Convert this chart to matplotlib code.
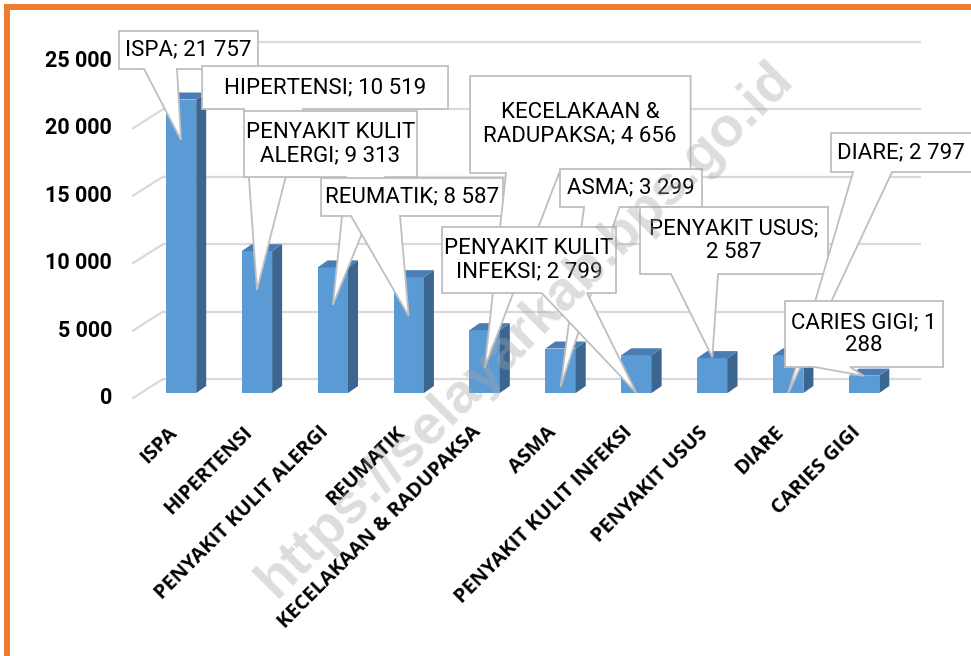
import numpy as np
import matplotlib.pyplot as plt
from matplotlib.patches import Polygon, Rectangle

# data
categories = ['ISPA', 'HIPERTENSI', 'PENYAKIT KULIT ALERGI', 'REUMATIK',
              'KECELAKAAN & RADUPAKSA', 'ASMA', 'PENYAKIT KULIT INFEKSI',
              'PENYAKIT USUS', 'DIARE', 'CARIES GIGI']
values = [21757, 10519, 9313, 8587, 4656, 3299, 2799, 2587, 2797, 1288]
yticks = [0, 5000, 10000, 15000, 20000, 25000]

def fmt(v):
    return f"{v:,}".replace(',', ' ')

# callout layout (data units: x = category index, y = value)
break_after = [0, 0, 2, 0, 2, 0, 2, 2, 0, 3]
box_l = [-0.817, 0.277, 0.830, 1.845, 3.808, 4.993, 3.439, 6.047, 8.564, 7.958]
box_r = [1.014, 3.518, 3.109, 4.242, 6.714, 6.864, 5.731, 8.524, 10.70, 10.040]
box_t = [26837, 24242, 20906, 15939, 23501, 16606, 12306, 13789, 19275, 6820]
box_b = [24020, 21054, 16013, 13122, 16310, 13789, 7414, 8822, 16384, 1928]
text_x = [0.099, 1.897, 1.970, 3.043, 5.257, 5.929, 4.585, 7.286, 9.486, 8.999]
text_y = [25428, 22648, 18460, 14530, 19905, 15198, 9860, 11306, 17829, 4374]
base_l = [-0.487, 0.830, 2.174, 2.240, 4.282, 5.310, 4.751, 6.456, 8.854, 8.353]
base_r = [-0.053, 1.607, 2.688, 2.885, 4.980, 5.777, 5.349, 7.075, 9.368, 8.814]
tip_y = [18756, 7636, 6524, 5708, 1853, 445, 0, 2650, 0, 1260]

# pseudo 3d geometry
bw = 0.4
bar_dx, bar_dy = 0.132, 519
wall_dx, wall_dy = 0.29, 1038
front_dx, front_dy = -0.105, -371
floor_l, floor_r = -0.527, 9.46

front_c = '#5b9bd5'
side_c = '#3a6690'
top_c = '#4a7db4'
grid_c = '#d9d9d9'
edge_c = '#bfbfbf'

fig = plt.figure(figsize=(9.71, 6.56), dpi=100)
ax = fig.add_axes([0, 0, 1, 1])
ax.set_xlim(-2.385, 10.408)
ax.set_ylim(-19497, 29135)
ax.axis('off')

# back wall gridlines and left diagonals
for t in yticks:
    ax.plot([floor_l + wall_dx, floor_r + wall_dx], [t + wall_dy] * 2,
            color=grid_c, lw=1.6, zorder=1, solid_capstyle='butt')
    ax.plot([floor_l + front_dx, floor_l + wall_dx], [t + front_dy, t + wall_dy],
            color=grid_c, lw=1.6, zorder=1)
    ax.text(-0.909, t + front_dy, fmt(t), ha='right', va='center',
            fontsize=15.5, fontweight='bold', family='Roboto')

# bars
x = np.arange(len(values))
ax.bar(x, values, width=bw, color=front_c, zorder=3)
for xi, v in zip(x, values):
    r = xi + bw / 2
    l = xi - bw / 2
    ax.add_patch(Polygon([(r, 0), (r + bar_dx, bar_dy), (r + bar_dx, v + bar_dy), (r, v)],
                         closed=True, fc=side_c, ec='none', zorder=3))
    ax.add_patch(Polygon([(l, v), (r, v), (r + bar_dx, v + bar_dy), (l + bar_dx, v + bar_dy)],
                         closed=True, fc=top_c, ec='none', zorder=3))

# category labels
for xi, c in zip(x, categories):
    ax.text(xi - 0.09, -2700, c, rotation=45, rotation_mode='anchor',
            ha='right', va='center', fontsize=14.5, fontweight='bold',
            family='Open Sans')

# callouts
for i, (c, v) in enumerate(zip(categories, values)):
    words = f"{c}; {fmt(v)}".split(' ')
    k = break_after[i]
    label = ' '.join(words) if k == 0 else ' '.join(words[:k]) + '\n' + ' '.join(words[k:])
    verts = [(box_l[i], box_t[i]), (box_r[i], box_t[i]), (box_r[i], box_b[i]),
             (base_r[i], box_b[i]), (i, tip_y[i]), (base_l[i], box_b[i]),
             (box_l[i], box_b[i])]
    ax.add_patch(Polygon(verts, closed=True, fc='white', ec=edge_c, lw=1.3,
                         zorder=10 + 2 * i, joinstyle='miter'))
    ax.text(text_x[i], text_y[i], label, ha='center', va='center',
            fontsize=16, family='Roboto', linespacing=1.15, zorder=11 + 2 * i)

# watermark
fig.text(525 / 971, 1 - 330 / 656, 'https://selayarkab.bps.go.id', rotation=45,
         ha='center', va='center', fontsize=40, fontweight='bold',
         color='#a6a6a6', alpha=0.38, family='Liberation Sans', zorder=100)

# orange frame (only left and top visible)
fig.add_artist(Rectangle((7 / 971, -0.1), 1.2, 1.1 - 7 / 656, transform=fig.transFigure,
                         fill=False, ec='#ed7d31', lw=4.3))

fig.savefig('out.png', dpi=100)
